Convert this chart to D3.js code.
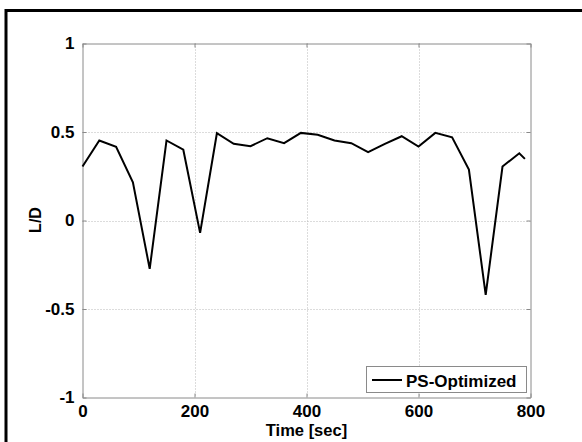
<!DOCTYPE html>
<html>
<head>
    <meta charset="utf-8">
    <script src="https://d3js.org/d3.v7.min.js"></script>
    <style>
      body { margin: 0; background: #fff; }
      text { font-family: Arial, "Liberation Sans", sans-serif; font-weight: bold; fill: #000; }
    </style>
</head>
<body>
<script type="text/javascript">
"use strict";

// L/D over time, one sample every 30 sec
var times = [0, 30, 60, 90, 120, 150, 180, 210, 240, 270, 300, 330, 360, 390, 420,
             450, 480, 510, 540, 570, 600, 630, 660, 690, 720, 750, 780, 790];
var ldValues = [0.305, 0.452, 0.416, 0.216, -0.273, 0.452, 0.40, -0.07, 0.493, 0.433,
                0.42, 0.465, 0.437, 0.495, 0.484, 0.452, 0.437, 0.386, 0.433, 0.476,
                0.418, 0.495, 0.47, 0.288, -0.42, 0.305, 0.38, 0.348];
var xTicks = [0, 200, 400, 600, 800];
var yTicks = [-1, -0.5, 0, 0.5, 1];
var seriesName = "PS-Optimized";

function draw() {
  var width = 582, height = 442;
  var pLeft = 82.5, pRight = 530.5, pTop = 43.5, pBottom = 397.5;

  var svg = d3.select("body").append("svg")
      .attr("width", width)
      .attr("height", height);

  // outer figure frame (cut off on right and bottom)
  svg.append("rect")
      .attr("x", 6).attr("y", 10.5)
      .attr("width", 600).attr("height", 460)
      .attr("fill", "#fff")
      .attr("stroke", "#000")
      .attr("stroke-width", 3);

  var x = d3.scaleLinear().domain([0, 800]).range([pLeft, pRight]);
  var y = d3.scaleLinear().domain([-1, 1]).range([pBottom, pTop]);

  // dotted grid
  svg.append("g").selectAll("line")
      .data(xTicks.slice(1, -1))
      .enter().append("line")
      .attr("x1", function(d) { return Math.round(x(d)) + 0.5; })
      .attr("x2", function(d) { return Math.round(x(d)) + 0.5; })
      .attr("y1", pTop).attr("y2", pBottom)
      .attr("stroke", "#b8b8b8")
      .attr("stroke-dasharray", "1,2");
  svg.append("g").selectAll("line")
      .data(yTicks.slice(1, -1))
      .enter().append("line")
      .attr("y1", function(d) { return Math.round(y(d)) + 0.5; })
      .attr("y2", function(d) { return Math.round(y(d)) + 0.5; })
      .attr("x1", pLeft).attr("x2", pRight)
      .attr("stroke", "#b8b8b8")
      .attr("stroke-dasharray", "1,2");

  // axes, ticks pointing inward, box on all sides
  var plain = function(d) { return String(d); };   // hyphen minus like the original
  var xAxis = d3.axisBottom(x).tickValues(xTicks).tickSizeInner(-4).tickSizeOuter(0)
      .tickPadding(7).tickFormat(plain);
  var yAxis = d3.axisLeft(y).tickValues(yTicks).tickSizeInner(-4).tickSizeOuter(0)
      .tickPadding(8).tickFormat(plain);
  var xTop = d3.axisTop(x).tickValues(xTicks).tickSizeInner(-4).tickSizeOuter(0).tickFormat("");
  var yRight = d3.axisRight(y).tickValues(yTicks).tickSizeInner(-4).tickSizeOuter(0).tickFormat("");

  var gx = svg.append("g").attr("transform", "translate(0," + pBottom + ")").call(xAxis);
  var gy = svg.append("g").attr("transform", "translate(" + pLeft + ",0)").call(yAxis);
  var gxt = svg.append("g").attr("transform", "translate(0," + pTop + ")").call(xTop);
  var gyr = svg.append("g").attr("transform", "translate(" + pRight + ",0)").call(yRight);

  [gx, gy, gxt, gyr].forEach(function(g) {
    g.selectAll("path, line").attr("stroke", "#8a8a8a");
    g.selectAll("text")
      .style("font-size", "17px")
      .style("font-weight", "bold")
      .attr("fill", "#000");
  });
  gx.selectAll("text").attr("dy", "0.71em");

  // the data line
  var line = d3.line()
      .x(function(d, i) { return x(times[i]); })
      .y(function(d) { return y(d); });
  svg.append("path")
      .datum(ldValues)
      .attr("d", line)
      .attr("fill", "none")
      .attr("stroke", "#000")
      .attr("stroke-width", 2)
      .attr("stroke-linejoin", "miter");

  // axis titles
  svg.append("text")
      .attr("x", (pLeft + pRight) / 2)
      .attr("y", 435.5)
      .attr("text-anchor", "middle")
      .style("font-size", "16.5px")
      .text("Time [sec]");
  svg.append("text")
      .attr("transform", "translate(41,220) rotate(-90)")
      .attr("text-anchor", "middle")
      .style("font-size", "16px")
      .text("L/D");

  // legend
  var legend = svg.append("g");
  legend.append("rect")
      .attr("x", 366.5).attr("y", 366.5)
      .attr("width", 160).attr("height", 26)
      .attr("fill", "#fff")
      .attr("stroke", "#8a8a8a");
  legend.append("line")
      .attr("x1", 372).attr("x2", 402)
      .attr("y1", 380).attr("y2", 380)
      .attr("stroke", "#000")
      .attr("stroke-width", 2);
  legend.append("text")
      .attr("x", 406).attr("y", 386.5)
      .style("font-size", "17px")
      .text(seriesName);
}

draw();
</script>
</body>
</html>
